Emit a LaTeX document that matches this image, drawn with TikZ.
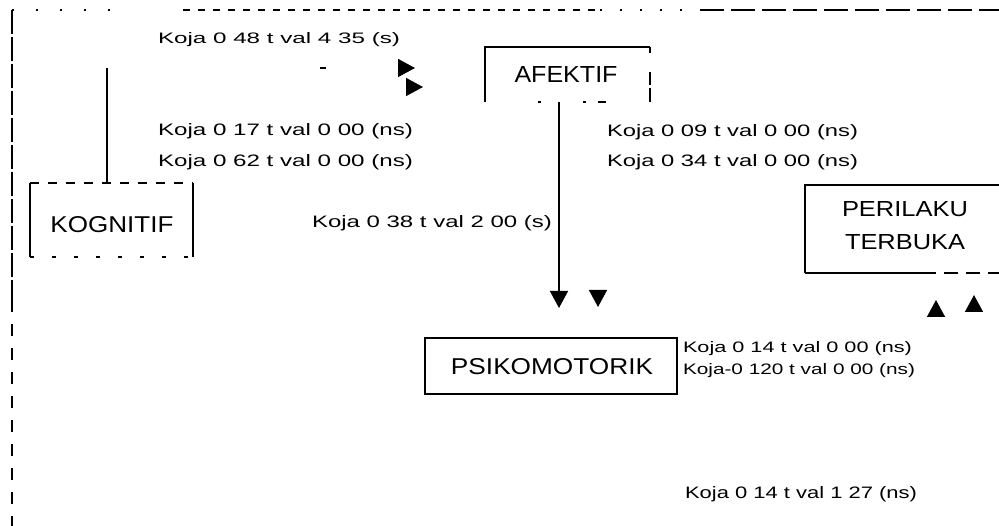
\documentclass[tikz,border=0pt]{standalone}
\usepackage{graphicx}
\usepackage{fontspec}
\setmainfont{Liberation Sans}
\usetikzlibrary{arrows.meta}
\newcommand\fittxt[3]{\resizebox{#1pt}{#2pt}{#3}}
\tikzset{
  lbl/.style={inner sep=0pt, outer sep=0pt, anchor=base west},
  boxlbl/.style={inner sep=0pt, outer sep=0pt},
  boxsh/.style={rectangle, inner sep=0pt, outer sep=0pt},
  ln/.style={line width=1.5pt, black},
  tip/.style={-{Triangle[width=18pt,length=17pt]}},
  ghost/.style={dash pattern=on 0pt off 200pt},
}
\begin{document}
\begin{tikzpicture}[x=1pt,y=-1pt]
\useasboundingbox (0,0) rectangle (999,526);
\clip (0,0) rectangle (999,526);
\fill[white] (0,0) rectangle (999,526);

% ---------- boxes ----------
\node[boxsh, minimum width=163pt, minimum height=74pt] (kog) at (111.5,220) {};
\node[boxlbl] (kogl) at (112,225) {\fittxt{123}{16}{KOGNITIF}};

\node[boxsh, minimum width=165pt, minimum height=55pt] (afe) at (567.5,74.5) {};
\node[boxlbl] (afel) at (566,75) {\fittxt{103}{16}{AFEKTIF}};

\node[boxsh, minimum width=205pt, minimum height=88pt] (per) at (907.5,229) {};
\node[boxlbl] (perl1) at (905,209.5) {\fittxt{126}{15}{PERILAKU}};
\node[boxlbl] (perl2) at (905,242.5) {\fittxt{120}{15}{TERBUKA}};

\node[boxsh, draw, line width=1.5pt, minimum width=252pt, minimum height=56pt] (psi) at (551,366) {};
\node[boxlbl] (psil) at (552,367) {\fittxt{202}{16}{PSIKOMOTORIK}};

% box borders
\draw[ln] (kog.north west) -- (kog.south west);
\draw[ln] (kog.north east) -- (kog.south east);
\draw[ln, dash pattern=on 9pt off 9pt] (kog.north west) -- (kog.north east);
\draw[ln, dash pattern=on 4pt off 18pt] (kog.south west) -- (kog.south east);

\draw[ln] (afe.south west) -- (afe.north west) -- (afe.north east);
\draw[ln, dash pattern=on 6pt off 19pt on 13pt off 3pt on 15pt off 20pt] (afe.north east) -- (afe.south east);
\draw[ln, dash pattern=on 0pt off 53pt on 3pt off 42pt on 3pt off 12pt on 8pt off 100pt] (afe.south west) -- (afe.south east);

\draw[ln] (per.south west) -- (per.north west) -- (per.north east);
\draw[ln] (per.south west) -- ++(117,0) coordinate (pb);
\draw[ln, dash pattern=on 14pt off 8pt] (pb) -- (per.south east);

% ---------- outer frame ----------
\coordinate (o1) at (12,526);
\coordinate (o4) at (12,300);
\coordinate (o2) at (12,10);
\coordinate (t2) at (130,10);
\coordinate (t3) at (183,10);
\coordinate (t4) at (600,10);
\coordinate (t5) at (700,10);
\coordinate (t6) at (1000,10);
\draw[ln, dash pattern=on 24pt off 3pt] (o2) -- (o4);
\draw[ln, dash pattern=on 12pt off 12pt] (o4) -- (o1);
\draw[ln, dash pattern=on 2pt off 22pt] (o2) -- (t2);
\draw[ln, dash pattern=on 7pt off 8pt] (t3) -- (t4);
\draw[ln, dash pattern=on 2pt off 18pt] (t4) -- (t5);
\draw[ln, dash pattern=on 24pt off 7pt] (t5) -- (t6);

% ---------- connectors ----------
\coordinate (k1) at (107,68);
\coordinate (ka) at (415,68);
\draw[ln] (kog.north -| k1) -- (k1);
\draw[ln, tip, dash pattern=on 0pt off 213pt on 6pt off 300pt] (k1) -- (ka);
\coordinate (kb0) at (380,87);
\coordinate (kb) at (423,87);
\draw[ln, tip, ghost] (kb0) -- (kb);

\coordinate (ap) at (559,308);
\draw[ln, tip] (afe.south -| ap) -- (ap);
\coordinate (ap20) at (598,260);
\coordinate (ap2) at (598,307);
\draw[ln, tip, ghost] (ap20) -- (ap2);

\coordinate (pu10) at (936,350);
\coordinate (pu1) at (936,300);
\draw[ln, tip, ghost] (pu10) -- (pu1);
\coordinate (pu20) at (974,345);
\coordinate (pu2) at (974,295);
\draw[ln, tip, ghost] (pu20) -- (pu2);

% ---------- labels ----------
\node[lbl] (s1) at (158,43.5) {\fittxt{242}{11}{Koja 0 48 t val 4 35 (s)}};
\node[lbl] (s2) at (158,136) {\fittxt{255}{12}{Koja 0 17 t val 0 00 (ns)}};
\node[lbl] (s3) at (158,167) {\fittxt{255}{12}{Koja 0 62 t val 0 00 (ns)}};
\node[lbl] (s4) at (312,228) {\fittxt{240}{12}{Koja 0 38 t val 2 00 (s)}};
\node[lbl] (s5) at (607,137) {\fittxt{251}{12}{Koja 0 09 t val 0 00 (ns)}};
\node[lbl] (s6) at (607,167) {\fittxt{251}{12}{Koja 0 34 t val 0 00 (ns)}};
\node[lbl] (s7) at (683,352.5) {\fittxt{229}{11}{Koja 0 14 t val 0 00 (ns)}};
\node[lbl] (s8) at (683,374.5) {\fittxt{232}{11}{Koja-0 120 t val 0 00 (ns)}};
\node[lbl] (s9) at (685,498) {\fittxt{232}{12}{Koja 0 14 t val 1 27 (ns)}};
\end{tikzpicture}
\end{document}
